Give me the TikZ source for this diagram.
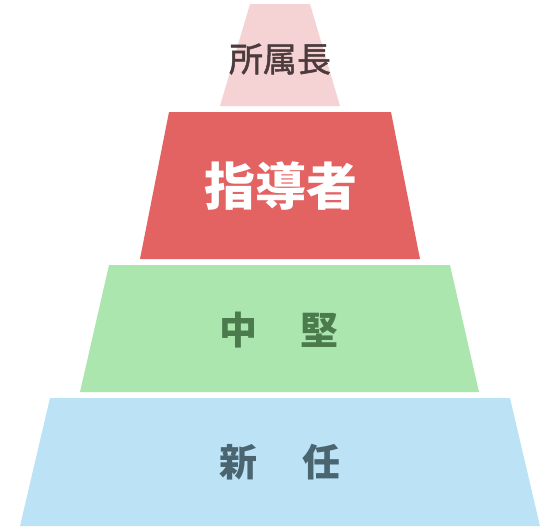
\documentclass[tikz,border=0pt]{standalone}
\usepackage{fontspec}
\newfontfamily\jpfont{Noto Sans CJK JP}
\newfontfamily\jpmedium[FakeBold=1.5]{Noto Sans CJK JP}
\usepackage{tikz}
\usetikzlibrary{calc}

\definecolor{headpink}{HTML}{F5D3D4}
\definecolor{leadred}{HTML}{E36262}
\definecolor{midgreen}{HTML}{ACE6AF}
\definecolor{newblue}{HTML}{BCE3F5}
\definecolor{headtext}{HTML}{4B3B3C}
\definecolor{midtext}{HTML}{4B7A4C}
\definecolor{newtext}{HTML}{4A6470}

\tikzset{
  tier/.style={draw=none},
  tierlabel/.style={inner sep=0pt, font=\jpfont}
}

\begin{document}
\begin{tikzpicture}[x=1pt, y=-1pt]
\useasboundingbox (0,0) rectangle (560,530);
% tiers, top to bottom
\fill[tier, headpink] (250,4) -- (310,4) -- (340,106) -- (220,106) -- cycle;
\fill[tier, leadred] (169,112) -- (391,112) -- (420,259) -- (140,259) -- cycle;
\fill[tier, midgreen] (109,265) -- (450,265) -- (479,392) -- (80,392) -- cycle;
\fill[tier, newblue] (50,398) -- (510,398) -- (540,526) -- (20,526) -- cycle;
% labels
\node[tierlabel, text=headtext, font=\jpmedium\fontsize{34}{40}\selectfont] (head) at (280,59) {所属長};
\node[tierlabel, text=white, font=\jpfont\bfseries\fontsize{51}{60}\selectfont] (lead) at (281,186) {指導者};
\node[tierlabel, text=midtext, font=\jpfont\bfseries\fontsize{38}{44}\selectfont] (mid) at (279,330) {中\hspace{44pt}堅};
\node[tierlabel, text=newtext, font=\jpfont\bfseries\fontsize{38}{44}\selectfont] (new) at (280,462) {新\hspace{45pt}任};
\end{tikzpicture}
\end{document}
